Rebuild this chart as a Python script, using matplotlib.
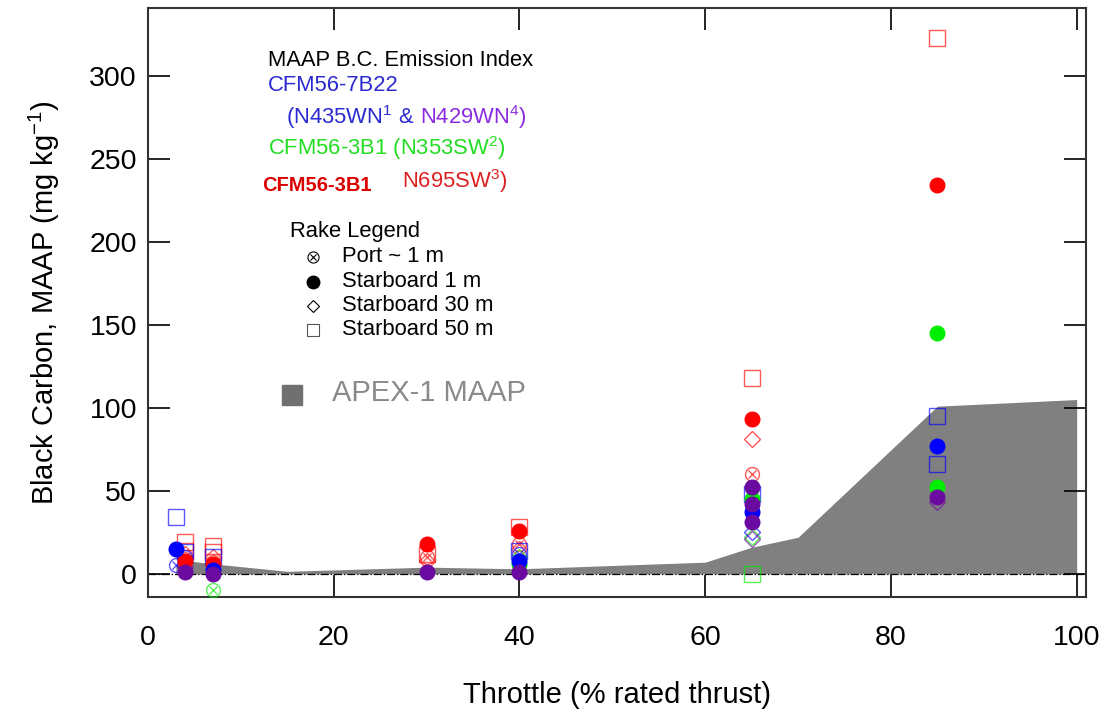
import numpy as np
import matplotlib
matplotlib.use("Agg")
import matplotlib.pyplot as plt

plt.rcParams['font.family'] = ['Liberation Sans', 'DejaVu Sans']
plt.rcParams['mathtext.fontset'] = 'custom'
plt.rcParams['mathtext.rm'] = 'Liberation Sans'
plt.rcParams['mathtext.it'] = 'Liberation Sans'

# APEX-1 MAAP envelope
apex_x = [3, 4, 7, 15, 30, 40, 60, 65, 70, 85, 100]
apex_y = [6, 8, 6, 1.5, 4, 3, 7, 16, 22, 101, 105]

# N435WN (CFM56-7B22) - blue
n435_port_x = [3, 4, 7, 40, 65]
n435_port_y = [5, 10, 3, 12, 38]
n435_sb1_x = [3, 7, 40, 65, 85]
n435_sb1_y = [15, 2, 8, 37, 77]
n435_sb30_x = [4, 65]
n435_sb30_y = [7, 25]
n435_sb50_x = [3, 4, 7, 40, 65, 85, 85]
n435_sb50_y = [34, 13, 10, 14, 48, 95, 66]

# N429WN (CFM56-7B22) - purple
n429_port_x = [65]
n429_port_y = [45]
n429_sb1_x = [4, 7, 30, 40, 65, 65, 65, 85]
n429_sb1_y = [1, 0, 1, 1, 52, 42, 31, 46]
n429_sb30_x = [4, 65, 85]
n429_sb30_y = [4, 21, 43]

# N353SW (CFM56-3B1) - green
n353_port_x = [7, 40]
n353_port_y = [-10, 8]
n353_sb1_x = [40, 65, 85, 85]
n353_sb1_y = [6, 45, 145, 52]
n353_sb30_x = [40, 65]
n353_sb30_y = [10, 22]
n353_sb50_x = [65]
n353_sb50_y = [0]

# N695SW (CFM56-3B1) - red
n695_port_x = [4, 7, 30, 40, 65]
n695_port_y = [9, 7, 10, 18, 60]
n695_sb1_x = [4, 7, 30, 40, 65, 85]
n695_sb1_y = [8, 6, 18, 26, 93, 234]
n695_sb30_x = [4, 7, 30, 40, 65]
n695_sb30_y = [12, 10, 8, 15, 81]
n695_sb50_x = [4, 4, 7, 7, 30, 40, 65, 85]
n695_sb50_y = [19, 14, 17, 13, 12, 28, 118, 323]

RED, GREEN, BLUE, PURPLE = '#ff0000', '#00ee00', '#0000ff', '#6a0aa0'

fig = plt.figure(figsize=(11.08, 7.15), dpi=100)
ax = fig.add_axes([0.1336, 0.165, 0.8465, 0.824])

ax.fill_between(apex_x, 0, apex_y, color='#808080', lw=0, zorder=1)
ax.axhline(0, color='black', lw=0.9, ls='-.', zorder=2)


def draw(c, port=None, sb1=None, sb30=None, sb50=None):
    if sb50:
        ax.plot(*sb50, ls='none', marker='s', ms=11, mfc='none', mec=c, mew=1, alpha=0.65, zorder=3)
    if sb30:
        ax.plot(*sb30, ls='none', marker='D', ms=8, mfc='none', mec=c, mew=1, alpha=0.65, zorder=3)
    if port:
        ax.plot(*port, ls='none', marker='o', ms=10, mfc='none', mec=c, mew=1, alpha=0.65, zorder=3)
        ax.plot(*port, ls='none', marker='x', ms=6, mec=c, mew=1, alpha=0.65, zorder=3)
    if sb1:
        ax.plot(*sb1, ls='none', marker='o', ms=10.5, mfc=c, mec=c, zorder=4)


draw(RED, (n695_port_x, n695_port_y), (n695_sb1_x, n695_sb1_y),
     (n695_sb30_x, n695_sb30_y), (n695_sb50_x, n695_sb50_y))
draw(GREEN, (n353_port_x, n353_port_y), (n353_sb1_x, n353_sb1_y),
     (n353_sb30_x, n353_sb30_y), (n353_sb50_x, n353_sb50_y))
draw(BLUE, (n435_port_x, n435_port_y), (n435_sb1_x, n435_sb1_y),
     (n435_sb30_x, n435_sb30_y), (n435_sb50_x, n435_sb50_y))
draw(PURPLE, (n429_port_x, n429_port_y), (n429_sb1_x, n429_sb1_y),
     (n429_sb30_x, n429_sb30_y))

ax.set_xlim(0, 101)
ax.set_ylim(-14, 341)
ax.set_xticks(np.arange(0, 101, 20))
ax.set_yticks(np.arange(0, 301, 50))
ax.tick_params(direction='in', length=16, width=1.2, top=True, right=True,
               labelsize=20.5)
ax.tick_params(axis='x', pad=20)
ax.tick_params(axis='y', pad=8)
for s in ax.spines.values():
    s.set_linewidth(1.5)
    s.set_color('#333333')

ax.set_xlabel('Throttle (% rated thrust)', fontsize=21, labelpad=22)
ax.set_ylabel('Black Carbon, MAAP (mg kg$^{-1}$)', fontsize=21, labelpad=20)

# legend block as text
fs = 15.8
ax.text(12.9, 309, 'MAAP B.C. Emission Index', fontsize=fs, va='center')
ax.text(12.9, 294.5, 'CFM56-7B22', fontsize=fs, color='#2a2ad0', va='center')
ax.text(14.9, 275.5, '(N435WN$^1$ &', fontsize=fs, color='#2a2ad0', va='center')
ax.text(29.3, 275.5, 'N429WN$^4$)', fontsize=fs, color='#8a2be2', va='center')
ax.text(12.9, 256.5, 'CFM56-3B1 (N353SW$^2$)', fontsize=fs, color='#22dd22', va='center')
ax.text(12.3, 234, 'CFM56-3B1', fontsize=14.5, color='#dd0000', va='center', fontweight='bold')
ax.text(27.3, 236.5, 'N695SW$^3$)', fontsize=fs, color='#dd2020', va='center')

ax.text(15.3, 206, 'Rake Legend', fontsize=fs, va='center')
leg_y = [191, 176, 161.5, 147]
leg_lbl = ['Port ~ 1 m', 'Starboard 1 m', 'Starboard 30 m', 'Starboard 50 m']
ax.plot([17.8], [leg_y[0]], marker='o', ms=8, mfc='none', mec='black', mew=0.8, ls='none')
ax.plot([17.8], [leg_y[0]], marker='x', ms=5, mec='black', mew=0.8, ls='none')
ax.plot([17.8], [leg_y[1]], marker='o', ms=9, mfc='black', mec='black', ls='none')
ax.plot([17.8], [leg_y[2]], marker='D', ms=6.5, mfc='none', mec='black', mew=0.8, ls='none')
ax.plot([17.8], [leg_y[3]], marker='s', ms=8.5, mfc='none', mec='#555555', mew=0.8, ls='none')
for yy, lb in zip(leg_y, leg_lbl):
    ax.text(20.9, yy, lb, fontsize=fs, va='center')

ax.plot([15.5], [108], marker='s', ms=14, mfc='#707070', mec='#707070', ls='none')
ax.text(19.8, 109, 'APEX-1 MAAP', fontsize=21, color='#8a8a8a', va='center')

fig.savefig('out.png', dpi=100)
